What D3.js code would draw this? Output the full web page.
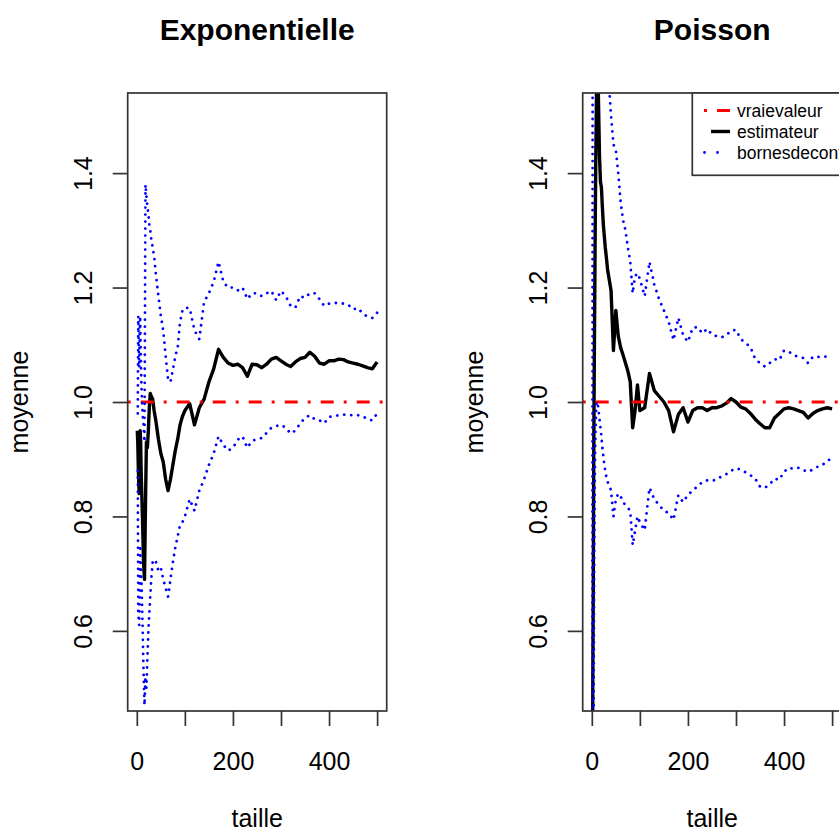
<!DOCTYPE html>
<html>
  <head>
    <script src="https://cdn.jsdelivr.net/npm/d3@7"></script>
    <style>
      body { margin: 0; background: #fff; }
      text { font-family: "Liberation Sans", Arial, Helvetica, sans-serif; fill: #000; }
    </style>
  </head>
  <body>
    <svg id="moyennes" width="839" height="834"></svg>
    <script>
    // sample sizes (x) shared by both panels
    var taille = [1,2,3,4,5,6,7,8,9,10,
      12,14,16,18,20,22,24,26,28,30,
      33,36,40,
      45,50,55,60,65,70,75,80,85,90,95,
      100,110,120,130,140,150,160,170,180,190,200,210,220,230,240,250,260,270,280,290,
      300,310,320,330,340,350,360,370,380,390,400,410,420,430,440,450,460,470,480,490,500];

    // Exponentielle
    var expEstim = [0.95,0.93,0.89,0.86,0.84,0.90,0.95,0.93,0.88,0.85,
      0.79,0.72,0.69,0.82,0.93,0.92,0.95,0.99,1.015,1.01,
      1.005,0.985,0.965,
      0.935,0.91,0.895,0.865,0.845,0.865,0.89,0.915,0.935,0.96,0.975,
      0.985,0.997,0.96,0.99,1.005,1.035,1.058,1.092,1.078,1.068,1.064,1.066,1.06,1.045,1.066,1.065,1.06,1.066,1.075,1.078,
      1.072,1.066,1.062,1.07,1.076,1.078,1.087,1.08,1.068,1.066,1.072,1.072,1.075,1.074,1.07,1.068,1.066,1.063,1.06,1.058,1.07];
    var expSup = [null,0.98,1.15,1.10,1.06,1.12,1.15,1.10,1.05,1.02,
      0.98,0.96,0.93,1.38,1.36,1.34,1.33,1.31,1.30,1.285,
      1.27,1.255,1.22,
      1.185,1.15,1.125,1.08,1.04,1.035,1.056,1.08,1.095,1.14,1.16,
      1.165,1.164,1.125,1.11,1.175,1.19,1.21,1.245,1.21,1.20,1.20,1.195,1.20,1.18,1.19,1.19,1.185,1.19,1.194,1.178,
      1.194,1.185,1.168,1.165,1.185,1.182,1.19,1.19,1.18,1.168,1.172,1.173,1.173,1.172,1.17,1.162,1.164,1.155,1.149,1.147,1.156];
    var expInf = [null,0.88,0.63,0.62,0.61,0.68,0.75,0.72,0.70,0.68,
      0.61,0.53,0.47,0.52,0.50,0.55,0.60,0.63,0.66,0.69,
      0.72,0.725,0.72,
      0.705,0.71,0.69,0.675,0.66,0.69,0.72,0.745,0.765,0.785,0.79,
      0.80,0.83,0.81,0.845,0.865,0.89,0.91,0.94,0.925,0.915,0.92,0.934,0.94,0.92,0.932,0.935,0.937,0.946,0.955,0.958,
      0.96,0.955,0.945,0.95,0.963,0.972,0.977,0.97,0.968,0.963,0.974,0.975,0.977,0.978,0.977,0.977,0.977,0.975,0.97,0.968,0.98];

    // Poisson
    var poisEstim = [0.0,0.5,0.67,0.9,1.05,1.17,1.3,1.4,1.48,1.56,
      1.62,1.52,1.43,1.385,1.375,1.34,1.31,1.29,1.27,1.255,
      1.23,1.215,1.195,
      1.09,1.16,1.115,1.095,1.082,1.068,1.054,1.035,0.955,0.985,1.03,
      0.985,0.99,1.05,1.02,1.01,1.0,0.985,0.948,0.978,0.99,0.965,0.985,0.99,0.99,0.985,0.99,0.99,0.993,0.998,1.006,
      1.0,0.991,0.988,0.98,0.97,0.962,0.955,0.955,0.972,0.98,0.988,0.99,0.988,0.985,0.982,0.972,0.98,0.985,0.988,0.99,0.988];
    var poisSup = [0.0,2.3,2.2,2.1,2.0,2.0,2.0,2.0,2.05,2.1,
      2.1,2.0,1.85,1.8,1.76,1.72,1.68,1.65,1.62,1.6,
      1.58,1.55,1.50,
      1.45,1.44,1.40,1.35,1.318,1.30,1.27,1.245,1.19,1.22,1.225,
      1.215,1.185,1.245,1.205,1.18,1.16,1.14,1.108,1.147,1.117,1.105,1.13,1.131,1.12,1.128,1.118,1.115,1.113,1.117,1.125,
      1.126,1.11,1.103,1.096,1.075,1.068,1.062,1.068,1.075,1.073,1.09,1.088,1.082,1.079,1.077,1.068,1.079,1.079,1.078,1.08,1.082];
    var poisInf = [0.0,-0.5,0.1,0.5,0.72,0.84,0.92,0.96,0.99,1.0,
      1.0,0.985,0.97,0.955,0.94,0.92,0.905,0.89,0.88,0.87,
      0.86,0.855,0.845,
      0.80,0.83,0.84,0.835,0.825,0.82,0.815,0.81,0.75,0.775,0.80,
      0.79,0.776,0.85,0.83,0.82,0.81,0.806,0.794,0.837,0.825,0.838,0.845,0.853,0.86,0.863,0.862,0.865,0.87,0.874,0.88,
      0.884,0.882,0.877,0.872,0.866,0.852,0.85,0.856,0.866,0.864,0.878,0.885,0.883,0.885,0.881,0.878,0.882,0.887,0.89,0.898,0.9];

    var vraieValeur = 1;
    var titres = ["Exponentielle", "Poisson"];
    var xTicks = [0, 100, 200, 300, 400, 500];
    var xTickLabels = ["0", "", "200", "", "400", ""];
    var yTicks = [0.6, 0.8, 1.0, 1.2, 1.4];
    var yTickLabels = ["0.6", "0.8", "1.0", "1.2", "1.4"];
    var legendLabels = ["vraievaleur", "estimateur", "bornesdeconfiance"];

    var svg = d3.select("#moyennes");
    var boxW = 259, boxTop = 93, boxBottom = 711;
    var panelLeft = [127.7, 582.7];
    var axisCol = "#333";

    var y = d3.scaleLinear().domain([0.46, 1.54]).range([boxBottom, boxTop]);

    function drawPanel(i, estim, sup, inf) {
      var left = panelLeft[i];
      var x = d3.scaleLinear().domain([-18.96, 519.96]).range([left, left + boxW]);
      var g = svg.append("g");

      g.append("clipPath").attr("id", "clip" + i)
        .append("rect")
        .attr("x", left).attr("y", boxTop)
        .attr("width", boxW).attr("height", boxBottom - boxTop);

      var line = d3.line()
        .defined(function(d){ return d[1] !== null; })
        .x(function(d){ return x(d[0]); })
        .y(function(d){ return y(d[1]); });

      var plot = g.append("g").attr("clip-path", "url(#clip" + i + ")");

      plot.append("path")
        .attr("d", line(d3.zip(taille, estim)))
        .attr("fill", "none").attr("stroke", "#000")
        .attr("stroke-width", 3.4).attr("stroke-linejoin", "round");

      plot.append("line")
        .attr("x1", left).attr("x2", left + boxW)
        .attr("y1", y(vraieValeur)).attr("y2", y(vraieValeur))
        .attr("stroke", "#ff0000").attr("stroke-width", 3)
        .attr("stroke-dasharray", "3,10,13,10");

      [sup, inf].forEach(function(s){
        plot.append("path")
          .attr("d", line(d3.zip(taille, s)))
          .attr("fill", "none").attr("stroke", "#0000ff")
          .attr("stroke-width", 2.8).attr("stroke-linecap", "round")
          .attr("stroke-dasharray", "0.01,7");
      });

      g.append("rect")
        .attr("x", left).attr("y", boxTop)
        .attr("width", boxW).attr("height", boxBottom - boxTop)
        .attr("fill", "none").attr("stroke", axisCol).attr("stroke-width", 1.7);

      var xAxis = g.append("g")
        .attr("transform", "translate(0," + boxBottom + ")")
        .call(d3.axisBottom(x).tickValues(xTicks).tickSize(15)
          .tickFormat(function(d, k){ return xTickLabels[k]; }));
      var yAxis = g.append("g")
        .attr("transform", "translate(" + left + ",0)")
        .call(d3.axisLeft(y).tickValues(yTicks).tickSize(15)
          .tickFormat(function(d, k){ return yTickLabels[k]; }));

      [xAxis, yAxis].forEach(function(a){
        a.select(".domain").remove();
        a.selectAll("line").attr("stroke", axisCol).attr("stroke-width", 1.7);
        a.selectAll("text").attr("font-size", 25).attr("fill", "#000")
          .style("font-family", "'Liberation Sans', Arial, sans-serif");
      });
      xAxis.selectAll("text").attr("y", 59).attr("dy", 0);
      yAxis.selectAll("text")
        .attr("transform", "rotate(-90)")
        .attr("x", 0).attr("y", -35.7).attr("dy", 0)
        .attr("text-anchor", "middle");

      g.append("text")
        .attr("x", left + boxW / 2).attr("y", 40)
        .attr("text-anchor", "middle")
        .attr("font-size", 30).attr("font-weight", "bold")
        .text(titres[i]);

      g.append("text")
        .attr("x", left + boxW / 2).attr("y", 827)
        .attr("text-anchor", "middle").attr("font-size", 25)
        .text("taille");

      g.append("text")
        .attr("transform", "translate(" + (left - 99.7) + "," + y(1) + ") rotate(-90)")
        .attr("text-anchor", "middle").attr("font-size", 25)
        .text("moyenne");

      return g;
    }

    drawPanel(0, expEstim, expSup, expInf);
    var right = drawPanel(1, poisEstim, poisSup, poisInf);

    // legend, top right of the Poisson panel
    var leg = right.append("g");
    leg.append("rect")
      .attr("x", 692.3).attr("y", boxTop)
      .attr("width", 150).attr("height", 82.3)
      .attr("fill", "#fff").attr("stroke", axisCol).attr("stroke-width", 1.7);
    var legStyles = [
      { col: "#ff0000", w: 3, dash: "3,10,13,10", x1: 704, cap: "butt" },
      { col: "#000", w: 3.4, dash: null, x1: 711, cap: "butt" },
      { col: "#0000ff", w: 2.8, dash: "0.01,13", x1: 704.5, cap: "round" }
    ];
    legendLabels.forEach(function(lab, k){
      var yy = 110.5 + k * 21;
      var s = legStyles[k];
      leg.append("line")
        .attr("x1", s.x1).attr("x2", 730)
        .attr("y1", yy).attr("y2", yy)
        .attr("stroke", s.col).attr("stroke-width", s.w)
        .attr("stroke-linecap", s.cap)
        .attr("stroke-dasharray", s.dash);
      leg.append("text")
        .attr("x", 737).attr("y", yy + 6)
        .attr("font-size", 17.5)
        .text(lab);
    });
    </script>
  </body>
</html>
